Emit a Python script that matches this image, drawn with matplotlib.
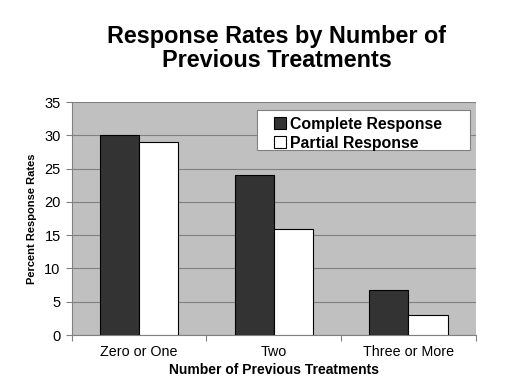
import numpy as np
import matplotlib.pyplot as plt
from matplotlib.patches import Rectangle

plt.rcParams['font.family'] = ['Liberation Sans', 'DejaVu Sans']

categories = ['Zero or One', 'Two', 'Three or More']
complete = [30, 24, 6.7]
partial = [29, 16, 3]
yticks = [0, 5, 10, 15, 20, 25, 30, 35]

fig = plt.figure(figsize=(5.2, 3.9), dpi=100)
ax = fig.add_axes([0.138, 0.141, 0.777, 0.597])
ax.set_facecolor('#c0c0c0')

x = np.arange(len(categories))
w = 0.29
ax.bar(x - w / 2, complete, w, color='#333333', edgecolor='black', linewidth=0.8,
       label='Complete Response', zorder=3)
ax.bar(x + w / 2, partial, w, color='white', edgecolor='black', linewidth=0.8,
       label='Partial Response', zorder=3)

ax.set_xlim(-0.5, len(categories) - 0.5)
ax.set_ylim(0, 35)
ax.set_yticks(yticks)
ax.yaxis.grid(True, color='#808080', linewidth=0.8, zorder=0)
ax.set_axisbelow(True)

# category labels centred, tick marks on the boundaries
ax.set_xticks(np.arange(-0.5, len(categories), 1.0))
ax.set_xticklabels([])
ax.set_xticks(x, minor=True)
ax.set_xticklabels(categories, minor=True, fontsize=10.3)
ax.tick_params(axis='x', which='minor', length=0, pad=7)
ax.tick_params(axis='x', which='major', length=4, color='#808080')
ax.tick_params(axis='y', labelsize=10.5, length=4, color='#808080', pad=4)

for s in ['top', 'right']:
    ax.spines[s].set_visible(False)
for s in ['left', 'bottom']:
    ax.spines[s].set_color('#808080')

ax.set_xlabel('Number of Previous Treatments', fontsize=10, fontweight='bold', labelpad=3)
ax.set_ylabel('Percent Response Rates', fontsize=8, fontweight='bold', labelpad=5)

fig.suptitle('Response Rates by Number of\nPrevious Treatments', fontsize=16.8,
             fontweight='bold', x=0.532, y=0.935, linespacing=1.05)

# legend box is wider than its contents, so draw the frame separately
ax.add_patch(Rectangle((0.458, 0.794), 0.527, 0.172, transform=ax.transAxes,
                       facecolor='white', edgecolor='#808080', linewidth=0.8, zorder=4))
leg = ax.legend(loc='upper left', prop={'size': 11.4, 'weight': 'bold'}, frameon=False,
                handlelength=0.75, handleheight=0.75, handletextpad=0.3, borderpad=0,
                borderaxespad=0, labelspacing=0.25, bbox_to_anchor=(0.5, 0.938))
leg.set_zorder(5)

fig.savefig('out.png', dpi=100)
